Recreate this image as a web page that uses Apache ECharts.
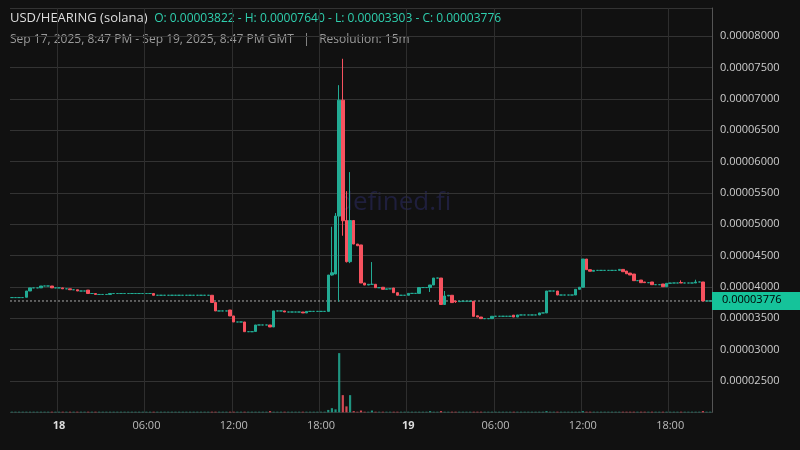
<!DOCTYPE html>
<html><head><meta charset="utf-8">
<script src="https://cdn.jsdelivr.net/npm/echarts@6/dist/echarts.min.js"></script>
<style>html,body{margin:0;padding:0;background:#111111}#c{width:800px;height:450px}</style>
</head><body><div id="c"></div>
<script>
// Prices in units of 1e-8. Candle index 0 = Sep 17 20:45, 15m steps.
const startPrice = 3830;
// [index, open, close, high, low] (high/low optional); candles between moves are flat at last close
const moves = [
 [4,3835,3935],[5,3935,3985],[8,3985,4015],[11,4015,3985],[14,3985,3970],[16,3970,3955],
 [18,3955,3935],[21,3950,3895],[23,3895,3880],[27,3880,3895],[39,3895,3867],[55,3867,3752],
 [56,3752,3617],[60,3632,3537],[61,3537,3441],[64,3441,3286],[67,3290,3393],[71,3393,3361],
 [72,3361,3617],[75,3617,3600],[80,3600,3585],[81,3585,3610],[87,3610,4190],[88,4190,4227,4960,4180],
 [89,4206,5130,5179,4206],[90,5130,6980,7219,3765],[91,6980,5056,7640,4817],[92,5060,4403,5528,4390],
 [93,4403,5060,5832,4380],[94,5060,4684],[95,4684,4657],[96,4670,4063],[97,4063,4030],[98,4030,4042],
 [99,4042,4042,4397,4042],[100,4042,3988],[102,3995,3962],[103,3962,3970],[105,3983,3908],[106,3908,3867],
 [109,3867,3897],[112,3897,3990],[115,3990,4031,4031,3920],[116,4031,4142],[118,4142,3720],
 [119,3720,3856,3935,3720],[120,3856,3867],[121,3867,3750],[122,3775,3765,3775,3745],[123,3765,3772],
 [127,3772,3531],[128,3540,3520],[129,3520,3494],[132,3494,3532],[138,3550,3520],[139,3520,3553],
 [145,3553,3585],[147,3585,3935],[150,3935,3871],[155,3871,3962],[156,3962,3995],[157,3995,4445],
 [158,4445,4275],[159,4275,4250],[160,4250,4264],[167,4264,4280],[168,4280,4243],[169,4254,4210],
 [170,4222,4190],[171,4206,4100],[173,4110,4068],[174,4079,4068],[176,4079,4036],[179,4047,4004],
 [180,4004,4058],[181,4058,4063],[184,4070,4063,4105,4063],[188,4063,4079,4115,4063],[190,4079,3776]
];
const candleCount = 193;
// volume spikes [index, volume]; other candles show base volume
const baseVolume = 1;
const volumeSpikes = [[71,2],[87,4],[88,7],[89,5],[90,100],[91,29],[92,10],[93,29],[94,2],[96,3],[99,3],
 [115,2],[118,2],[147,2],[157,2],[190,2]];
const lastPrice = 3776;
const tickLabelIdx = {13:'18',37:'06:00',61:'12:00',85:'18:00',109:'19',133:'06:00',157:'12:00',181:'18:00'};

const UP='#22ab94', DOWN='#f7525f';
const cats=[], ohlc=[], vols=[];
const mv={}; moves.forEach(m=>mv[m[0]]=m);
const vs={}; volumeSpikes.forEach(v=>vs[v[0]]=v[1]);
let p=startPrice;
for(let i=0;i<candleCount;i++){
  cats.push(String(i));
  let o=p,c=p,h=p,l=p;
  if(mv[i]){const m=mv[i];o=m[1];c=m[2];h=m[3]!==undefined?m[3]:Math.max(o,c);l=m[4]!==undefined?m[4]:Math.min(o,c);}
  ohlc.push([o*1e-8,c*1e-8,l*1e-8,h*1e-8]);
  vols.push({value:vs[i]||baseVolume,itemStyle:{color:(c<o?DOWN:UP),opacity:0.85}});
  p=c;
}
const isTick=(i)=>tickLabelIdx[i]!==undefined;
const chart=echarts.init(document.getElementById('c'));
const baseGraphic=[
  {type:'text',left:337,top:190,z:0,style:{text:'defined.fi',fill:'#1f1f3d',font:'26px "Open Sans"'}},
  {type:'text',left:10,top:12,style:{rich:{a:{fill:'#dddddd',font:'13px "Open Sans"'},b:{fill:'#2fcfae',font:'12px "Open Sans"'}},
    text:'{a|USD/HEARING (solana)}  {b|O: 0.00003822 - H: 0.00007640 - L: 0.00003303 - C: 0.00003776}'}},
  {type:'text',left:10,top:34,style:{fill:'#9a9a9a',font:'12px "Open Sans"',
    text:'Sep 17, 2025, 8:47 PM - Sep 19, 2025, 8:47 PM GMT   |   Resolution: 15m'}}
];
chart.setOption({
  backgroundColor:'#111111',
  animation:false,
  graphic:baseGraphic,
  grid:[{left:10,right:88,top:8,bottom:37.7},{left:10,right:88,bottom:37.7,height:100}],
  xAxis:[
    {type:'category',data:cats,gridIndex:0,boundaryGap:true,
     axisLine:{show:false},axisTick:{show:false},
     axisLabel:{interval:(i)=>isTick(i),color:'#bbbbbb',fontSize:11,fontFamily:'Open Sans',margin:8,
       formatter:(v)=>{const t=tickLabelIdx[v];return (t==='18'||t==='19')?'{b|'+t+'}':t;},
       rich:{b:{fontWeight:'bold',color:'#dddddd',fontSize:11}}},
     splitLine:{show:true,interval:(i)=>isTick(i),lineStyle:{color:'#2e2e2e'}}},
    {type:'category',data:cats,gridIndex:1,show:false}
  ],
  yAxis:[
    {type:'value',gridIndex:0,position:'right',min:0.00002,max:0.0000845,interval:0.000005,
     axisLine:{show:true,lineStyle:{color:'#555'}},axisTick:{show:false},
     axisLabel:{color:'#cccccc',fontSize:11,fontFamily:'Open Sans',margin:8,showMinLabel:false,showMaxLabel:false,
       formatter:(v)=>v.toFixed(8)},
     splitLine:{lineStyle:{color:'#333333'}}},
    {type:'value',gridIndex:1,min:0,max:169,show:false,splitLine:{show:false}}
  ],
  series:[
    {type:'candlestick',data:ohlc,xAxisIndex:0,yAxisIndex:0,barWidth:'80%',
     itemStyle:{color:UP,color0:DOWN,borderColor:UP,borderColor0:DOWN,borderWidth:1}},
    {type:'bar',data:vols,xAxisIndex:1,yAxisIndex:1,barWidth:'60%'}
  ]
});
// current price line + label, positioned through the chart's own y scale
const py=chart.convertToPixel({yAxisIndex:0},lastPrice*1e-8);
chart.setOption({graphic:baseGraphic.concat([
  {type:'line',z:1,shape:{x1:10,y1:py,x2:712,y2:py},style:{stroke:'#cfcfcf',lineWidth:1,lineDash:[2,2],opacity:0.8}},
  {type:'rect',z:10,shape:{x:712,y:py-9,width:88,height:18},style:{fill:'#15c39a'}},
  {type:'text',z:11,left:722,top:py-7,style:{text:(lastPrice*1e-8).toFixed(8),fill:'#000',font:'11px "Open Sans"'}}
])});
</script></body></html>
